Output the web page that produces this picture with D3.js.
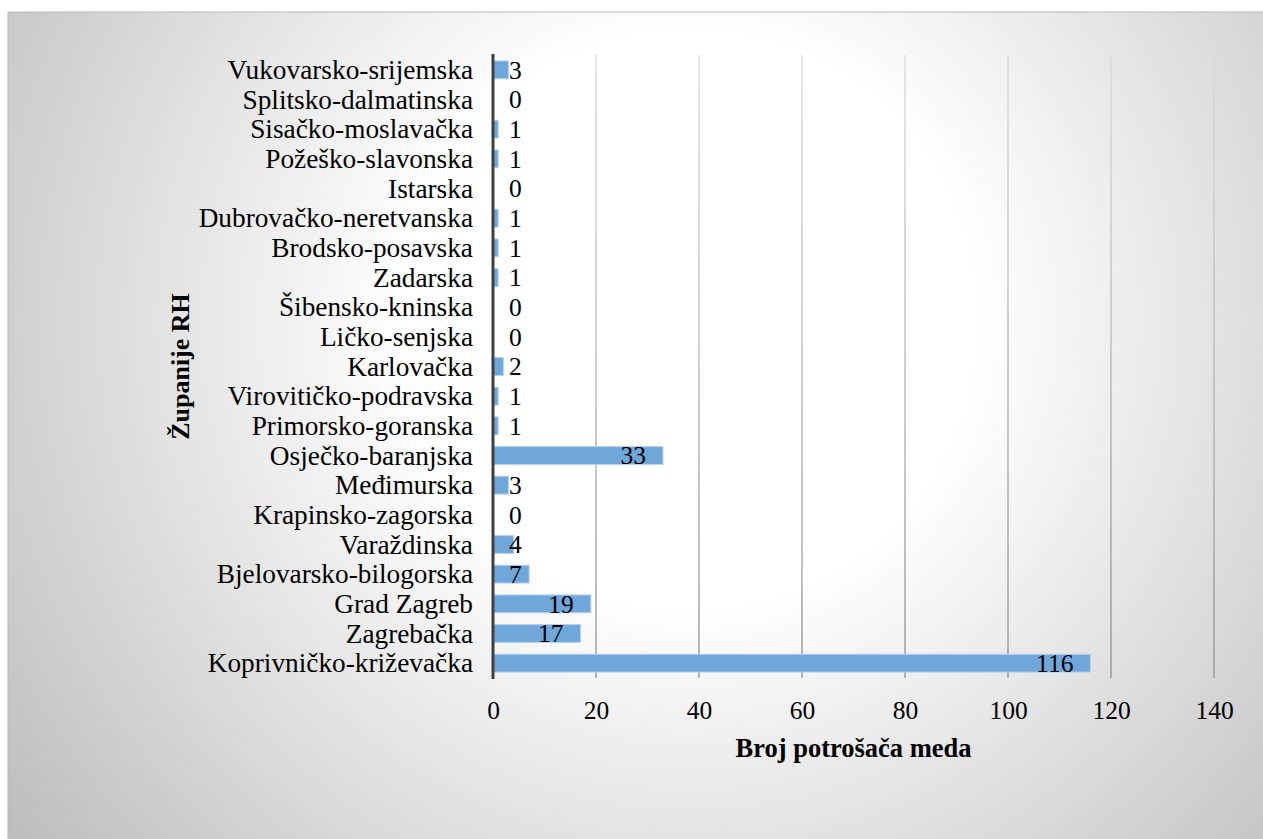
<!DOCTYPE html>
<html><head><meta charset="utf-8">
<script src="https://cdn.jsdelivr.net/npm/d3@7"></script>
<style>html,body{margin:0;padding:0;background:#fff;overflow:hidden}</style>
</head><body>
<svg id="chart" width="1263" height="839"></svg>
<script>
const categories = ["Vukovarsko-srijemska","Splitsko-dalmatinska","Sisačko-moslavačka","Požeško-slavonska","Istarska","Dubrovačko-neretvanska","Brodsko-posavska","Zadarska","Šibensko-kninska","Ličko-senjska","Karlovačka","Virovitičko-podravska","Primorsko-goranska","Osječko-baranjska","Međimurska","Krapinsko-zagorska","Varaždinska","Bjelovarsko-bilogorska","Grad Zagreb","Zagrebačka","Koprivničko-križevačka"];
const values = [3,0,1,1,0,1,1,1,0,0,2,1,1,33,3,0,4,7,19,17,116];
const xTicks = [0,20,40,60,80,100,120,140];
const xTitle = "Broj potrošača meda";
const yTitle = "Županije RH";

const svg = d3.select("#chart");
const font = "'Liberation Serif','Times New Roman',serif";
const defs = svg.append("defs");
const rg = defs.append("radialGradient").attr("id","bg").attr("gradientUnits","userSpaceOnUse")
  .attr("cx",690).attr("cy",320).attr("r",860);
rg.append("stop").attr("offset",0).attr("stop-color","#ffffff");
rg.append("stop").attr("offset",0.33).attr("stop-color","#ffffff");
rg.append("stop").attr("offset",1).attr("stop-color","#bcbcbc");

const x0 = 493, x1 = 1214, yTop = 55, yBot = 678;
const lg = defs.append("linearGradient").attr("id","grid").attr("gradientUnits","userSpaceOnUse")
  .attr("x1",0).attr("y1",yTop).attr("x2",0).attr("y2",yBot);
lg.append("stop").attr("offset",0).attr("stop-color","#d9d9d9");
lg.append("stop").attr("offset",1).attr("stop-color","#8f8f8f");

svg.append("rect").attr("x",8).attr("y",12).attr("width",1263).attr("height",839)
  .attr("fill","url(#bg)").attr("stroke","#b8b8b8").attr("stroke-width",1);

const x = d3.scaleLinear().domain([0,140]).range([x0,x1]);
const y = d3.scaleBand().domain(categories).range([yTop,yBot]).paddingInner(0.4).paddingOuter(0.2);

// gridlines
svg.append("g").selectAll("line").data(xTicks.filter(d=>d>0)).join("line")
  .attr("x1",d=>x(d)).attr("x2",d=>x(d)).attr("y1",yTop).attr("y2",yBot)
  .attr("stroke","url(#grid)").attr("stroke-width",1.3);

// x axis labels
const xAxis = d3.axisBottom(x).tickValues(xTicks).tickSize(0).tickPadding(0);
const gx = svg.append("g").attr("transform",`translate(0,${yBot})`).call(xAxis);
gx.select(".domain").remove();
gx.selectAll("text").attr("y",41).attr("dy",0).attr("font-family",font).attr("font-size",25.5).attr("fill","#000");

// bars
svg.append("g").selectAll("rect").data(values).join("rect")
  .attr("x",x0).attr("y",(d,i)=>y(categories[i]))
  .attr("width",d=>x(d)-x0).attr("height",y.bandwidth())
  .attr("fill","#70a7da").attr("stroke","#b4d0ee").attr("stroke-width",1)
  .attr("display",d=>d>0?null:"none");

// y axis labels
const yAxis = d3.axisLeft(y).tickSize(0).tickPadding(0);
const gy = svg.append("g").attr("transform",`translate(473,0)`).call(yAxis);
gy.select(".domain").remove();
gy.selectAll("text").attr("x",0).attr("dy","0.34em").attr("font-family",font).attr("font-size",27.3).attr("fill","#000");

// axis line
svg.append("line").attr("x1",x0).attr("x2",x0).attr("y1",yTop-1).attr("y2",yBot+1)
  .attr("stroke","#404040").attr("stroke-width",3);

// data labels
const lbl = svg.append("g").selectAll("text").data(values).join("text")
  .attr("font-family",font).attr("font-size",25.5).attr("fill","#000")
  .attr("text-anchor","end").attr("dy","0.34em")
  .attr("y",(d,i)=>y(categories[i])+y.bandwidth()/2)
  .text(d=>d);
lbl.each(function(d){
  const w = this.getComputedTextLength();
  const r = Math.max(x(d)-17, x0+16+w);
  d3.select(this).attr("x", r);
});

// titles
svg.append("text").attr("x",(x0+x1)/2).attr("y",757).attr("text-anchor","middle")
  .attr("font-family",font).attr("font-weight","bold").attr("font-size",26.5).text(xTitle);
svg.append("text").attr("transform",`translate(189,${(yTop+yBot)/2}) rotate(-90)`).attr("text-anchor","middle")
  .attr("font-family",font).attr("font-weight","bold").attr("font-size",26).text(yTitle);
</script>
</body></html>
